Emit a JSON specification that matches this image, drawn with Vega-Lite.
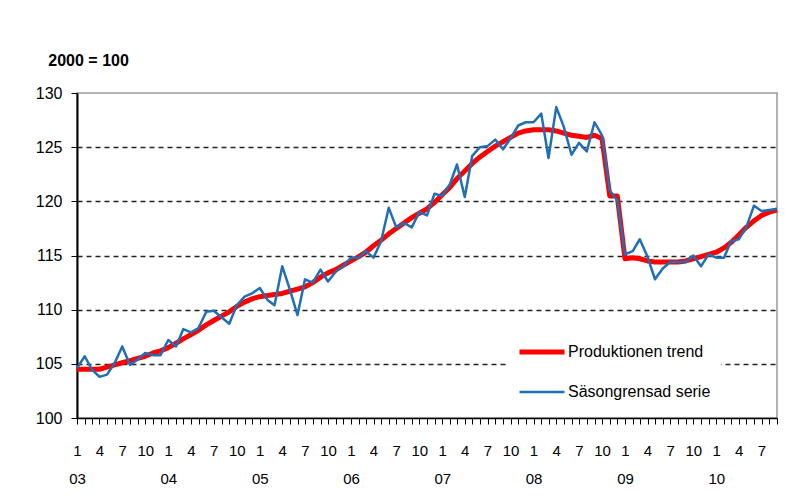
{
  "$schema": "https://vega.github.io/schema/vega-lite/v6.json",
  "autosize": "none",
  "width": 700,
  "height": 325,
  "padding": {"left": 77, "top": 93, "right": 9, "bottom": 80},
  "background": "white",
  "title": {"text": "2000 = 100", "anchor": "start", "fontSize": 16, "fontWeight": "bold", "font": "Liberation Sans", "color": "black", "dx": 13, "offset": 16},
  "data": {"values": [
    {"month": "2003-01", "trend": 104.5, "sa": 104.6},
    {"month": "2003-02", "trend": 104.5, "sa": 105.7},
    {"month": "2003-03", "trend": 104.5, "sa": 104.5},
    {"month": "2003-04", "trend": 104.5, "sa": 103.8},
    {"month": "2003-05", "trend": 104.7, "sa": 104.0},
    {"month": "2003-06", "trend": 104.9, "sa": 105.1},
    {"month": "2003-07", "trend": 105.1, "sa": 106.6},
    {"month": "2003-08", "trend": 105.3, "sa": 104.9},
    {"month": "2003-09", "trend": 105.5, "sa": 105.4},
    {"month": "2003-10", "trend": 105.7, "sa": 106.0},
    {"month": "2003-11", "trend": 106.0, "sa": 105.8},
    {"month": "2003-12", "trend": 106.2, "sa": 105.8},
    {"month": "2004-01", "trend": 106.5, "sa": 107.2},
    {"month": "2004-02", "trend": 106.9, "sa": 106.6},
    {"month": "2004-03", "trend": 107.3, "sa": 108.2},
    {"month": "2004-04", "trend": 107.7, "sa": 107.9},
    {"month": "2004-05", "trend": 108.1, "sa": 108.3},
    {"month": "2004-06", "trend": 108.6, "sa": 109.8},
    {"month": "2004-07", "trend": 109.0, "sa": 109.9},
    {"month": "2004-08", "trend": 109.4, "sa": 109.3},
    {"month": "2004-09", "trend": 109.8, "sa": 108.7},
    {"month": "2004-10", "trend": 110.3, "sa": 110.4},
    {"month": "2004-11", "trend": 110.7, "sa": 111.2},
    {"month": "2004-12", "trend": 111.0, "sa": 111.5},
    {"month": "2005-01", "trend": 111.2, "sa": 112.0},
    {"month": "2005-02", "trend": 111.3, "sa": 110.9},
    {"month": "2005-03", "trend": 111.4, "sa": 110.4},
    {"month": "2005-04", "trend": 111.5, "sa": 114.0},
    {"month": "2005-05", "trend": 111.7, "sa": 111.9},
    {"month": "2005-06", "trend": 111.9, "sa": 109.5},
    {"month": "2005-07", "trend": 112.1, "sa": 112.8},
    {"month": "2005-08", "trend": 112.5, "sa": 112.5},
    {"month": "2005-09", "trend": 113.0, "sa": 113.7},
    {"month": "2005-10", "trend": 113.4, "sa": 112.6},
    {"month": "2005-11", "trend": 113.7, "sa": 113.5},
    {"month": "2005-12", "trend": 114.1, "sa": 114.0},
    {"month": "2006-01", "trend": 114.5, "sa": 114.8},
    {"month": "2006-02", "trend": 114.9, "sa": 114.8},
    {"month": "2006-03", "trend": 115.3, "sa": 115.4},
    {"month": "2006-04", "trend": 115.9, "sa": 114.8},
    {"month": "2006-05", "trend": 116.4, "sa": 116.3},
    {"month": "2006-06", "trend": 117.0, "sa": 119.4},
    {"month": "2006-07", "trend": 117.5, "sa": 117.6},
    {"month": "2006-08", "trend": 118.0, "sa": 118.0},
    {"month": "2006-09", "trend": 118.5, "sa": 117.6},
    {"month": "2006-10", "trend": 118.9, "sa": 119.0},
    {"month": "2006-11", "trend": 119.3, "sa": 118.7},
    {"month": "2006-12", "trend": 119.9, "sa": 120.7},
    {"month": "2007-01", "trend": 120.6, "sa": 120.5},
    {"month": "2007-02", "trend": 121.3, "sa": 121.6},
    {"month": "2007-03", "trend": 122.1, "sa": 123.4},
    {"month": "2007-04", "trend": 122.8, "sa": 120.4},
    {"month": "2007-05", "trend": 123.5, "sa": 124.2},
    {"month": "2007-06", "trend": 124.1, "sa": 125.0},
    {"month": "2007-07", "trend": 124.6, "sa": 125.1},
    {"month": "2007-08", "trend": 125.1, "sa": 125.7},
    {"month": "2007-09", "trend": 125.5, "sa": 124.8},
    {"month": "2007-10", "trend": 125.9, "sa": 125.8},
    {"month": "2007-11", "trend": 126.3, "sa": 127.0},
    {"month": "2007-12", "trend": 126.5, "sa": 127.3},
    {"month": "2008-01", "trend": 126.6, "sa": 127.3},
    {"month": "2008-02", "trend": 126.6, "sa": 128.1},
    {"month": "2008-03", "trend": 126.6, "sa": 124.0},
    {"month": "2008-04", "trend": 126.5, "sa": 128.7},
    {"month": "2008-05", "trend": 126.3, "sa": 126.9},
    {"month": "2008-06", "trend": 126.1, "sa": 124.3},
    {"month": "2008-07", "trend": 126.0, "sa": 125.4},
    {"month": "2008-08", "trend": 125.9, "sa": 124.6},
    {"month": "2008-09", "trend": 126.1, "sa": 127.3},
    {"month": "2008-10", "trend": 125.8, "sa": 126.1},
    {"month": "2008-11", "trend": 120.5, "sa": 121.0},
    {"month": "2008-12", "trend": 120.5, "sa": 120.1},
    {"month": "2009-01", "trend": 114.7, "sa": 115.1},
    {"month": "2009-02", "trend": 114.8, "sa": 115.4},
    {"month": "2009-03", "trend": 114.7, "sa": 116.5},
    {"month": "2009-04", "trend": 114.5, "sa": 114.9},
    {"month": "2009-05", "trend": 114.4, "sa": 112.8},
    {"month": "2009-06", "trend": 114.4, "sa": 113.8},
    {"month": "2009-07", "trend": 114.4, "sa": 114.4},
    {"month": "2009-08", "trend": 114.4, "sa": 114.4},
    {"month": "2009-09", "trend": 114.5, "sa": 114.4},
    {"month": "2009-10", "trend": 114.7, "sa": 115.0},
    {"month": "2009-11", "trend": 114.9, "sa": 114.0},
    {"month": "2009-12", "trend": 115.1, "sa": 115.1},
    {"month": "2010-01", "trend": 115.3, "sa": 114.8},
    {"month": "2010-02", "trend": 115.7, "sa": 114.8},
    {"month": "2010-03", "trend": 116.2, "sa": 116.3},
    {"month": "2010-04", "trend": 116.9, "sa": 116.5},
    {"month": "2010-05", "trend": 117.6, "sa": 117.6},
    {"month": "2010-06", "trend": 118.2, "sa": 119.6},
    {"month": "2010-07", "trend": 118.7, "sa": 119.1},
    {"month": "2010-08", "trend": 119.0, "sa": 119.2},
    {"month": "2010-09", "trend": 119.2, "sa": 119.3}
  ]},
  "transform": [{"fold": ["trend", "sa"], "as": ["series", "value"]}],
  "mark": {"type": "line", "strokeJoin": "round"},
  "encoding": {
    "x": {
      "field": "month", "type": "temporal",
      "scale": {"type": "utc", "nice": false, "domain": [{"year": 2003, "month": 1, "date": 1, "utc": true}, {"year": 2010, "month": 9, "date": 1, "utc": true}]},
      "axis": {
        "title": null,
        "tickCount": {"interval": "month", "step": 1},
        "labelExpr": "utcmonth(datum.value) == 0 ? ['1', utcFormat(datum.value, '%y')] : (utcmonth(datum.value) % 3 == 0 ? '' + (utcmonth(datum.value) + 1) : '')",
        "labelOverlap": false,
        "labelFlush": false,
        "labelFont": "Liberation Sans",
        "labelFontSize": 15,
        "labelColor": "black",
        "labelLineHeight": 28,
        "labelPadding": 19,
        "labelBaseline": "top",
        "tickSize": 6,
        "tickColor": "black",
        "tickWidth": 1,
        "domainColor": "black",
        "domainWidth": 1.5,
        "grid": false
      }
    },
    "y": {
      "field": "value", "type": "quantitative",
      "scale": {"domain": [100, 130], "nice": false, "zero": false},
      "axis": {
        "title": null,
        "values": [100, 105, 110, 115, 120, 125, 130],
        "labelFont": "Liberation Sans",
        "labelFontSize": 16,
        "labelColor": "black",
        "labelPadding": 9,
        "tickSize": 6,
        "tickColor": "black",
        "domainColor": "black",
        "domainWidth": 2,
        "grid": true,
        "gridColor": "#222222",
        "gridWidth": 1.5,
        "gridDash": [5, 4],
        "gridOpacity": {"condition": {"test": "datum.value == 100 || datum.value == 130", "value": 0}, "value": 1}
      }
    },
    "color": {
      "field": "series", "type": "nominal",
      "scale": {"domain": ["trend", "sa"], "range": ["#ff0000", "#1f6eb6"]},
      "legend": {
        "title": null,
        "orient": "none",
        "legendX": 430,
        "legendY": 239,
        "symbolType": "stroke",
        "symbolSize": 2025,
        "clipHeight": 20,
        "rowPadding": 20,
        "labelFont": "Liberation Sans",
        "labelFontSize": 16,
        "labelColor": "black",
        "labelOffset": 1,
        "padding": 10,
        "fillColor": "white",
        "labelExpr": "datum.label == 'trend' ? 'Produktionen trend' : 'Säsongrensad serie'"
      }
    },
    "strokeWidth": {
      "field": "series", "type": "nominal",
      "scale": {"domain": ["trend", "sa"], "range": [5, 2.5]},
      "legend": {
        "title": null,
        "orient": "none",
        "legendX": 430,
        "legendY": 239,
        "symbolType": "stroke",
        "symbolSize": 2025,
        "clipHeight": 20,
        "rowPadding": 20,
        "labelFont": "Liberation Sans",
        "labelFontSize": 16,
        "labelColor": "black",
        "labelOffset": 1,
        "padding": 10,
        "fillColor": "white",
        "labelExpr": "datum.label == 'trend' ? 'Produktionen trend' : 'Säsongrensad serie'"
      }
    }
  },
  "config": {
    "view": {"stroke": "#999999", "strokeWidth": 1.5}
  }
}
